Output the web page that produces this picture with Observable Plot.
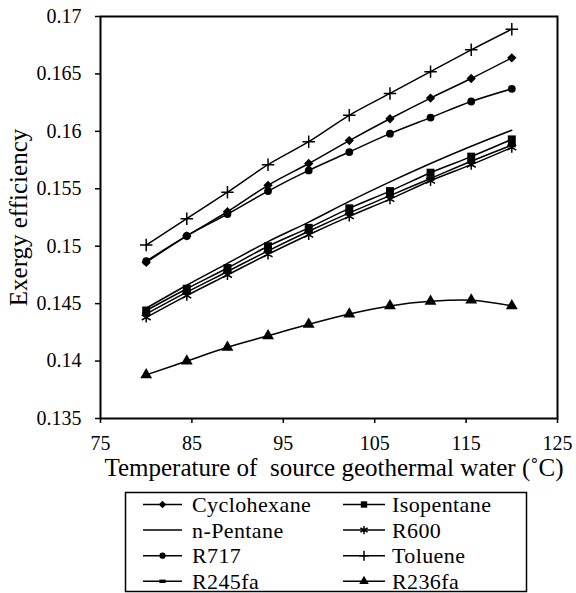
<!DOCTYPE html>
<html><head><meta charset="utf-8">
<script src="https://cdn.jsdelivr.net/npm/d3@7"></script>
<script src="https://cdn.jsdelivr.net/npm/@observablehq/plot@0.6"></script>
<style>
body{margin:0;background:#fff;}
#chart svg{display:block;}
</style>
</head><body><div id="chart"></div>
<script>
// ---- data ----
const temps = [80, 84.44, 88.89, 93.33, 97.78, 102.22, 106.67, 111.11, 115.56, 120];
const cyclohexane = [0.1486, 0.1509, 0.1530, 0.1553, 0.1572, 0.1592, 0.1611, 0.1629, 0.1646, 0.1664];
const isopentane  = [0.1444, 0.1463, 0.1481, 0.1500, 0.1516, 0.1533, 0.1548, 0.1564, 0.1578, 0.1593];
const nPentane    = [0.1446, 0.1466, 0.1485, 0.1504, 0.1521, 0.1539, 0.1556, 0.1572, 0.1587, 0.1601];
const r600        = [0.1438, 0.1457, 0.1475, 0.1493, 0.1510, 0.1526, 0.1541, 0.1557, 0.1571, 0.1586];
const r717        = [0.1487, 0.1509, 0.1528, 0.1548, 0.1566, 0.1582, 0.1598, 0.1612, 0.1626, 0.1637];
const toluene     = [0.1501, 0.1524, 0.1547, 0.1571, 0.1591, 0.1614, 0.1633, 0.1652, 0.1671, 0.1689];
const r245fa      = [0.1441, 0.1460, 0.1478, 0.1496, 0.1513, 0.1529, 0.1544, 0.1559, 0.1574, 0.1588];
const r236fa      = [0.1388, 0.1400, 0.1412, 0.1422, 0.1432, 0.1441, 0.1448, 0.1452, 0.1453, 0.1448];

const xTicks = [75, 85, 95, 105, 115, 125];
const yTicks = [0.135, 0.14, 0.145, 0.15, 0.155, 0.16, 0.165, 0.17];
const xTitle = "Temperature of\u00a0 source geothermal water (\u02DAC)";
const yTitle = "Exergy efficiency";

const serif = "Liberation Serif";

// custom dash marker (short filled bar)
const dashSymbol = {draw(ctx, size) { const w = Math.sqrt(size) * 0.55, h = w * 0.55; ctx.rect(-w, -h, 2 * w, 2 * h); }};

const series = [
  {name: "Cyclohexane", values: cyclohexane, symbol: "diamond2", r: 4.2, hollow: false},
  {name: "Isopentane",  values: isopentane,  symbol: "square",   r: 4.5, hollow: false},
  {name: "n-Pentane",   values: nPentane,    symbol: null},
  {name: "R600",        values: r600,        symbol: "asterisk", r: 4.9, hollow: true},
  {name: "R717",        values: r717,        symbol: "circle",   r: 3.9, hollow: false},
  {name: "Toluene",     values: toluene,     symbol: "plus",     r: 4.1, hollow: true},
  {name: "R245fa",      values: r245fa,      symbol: dashSymbol, r: 4.0, hollow: false},
  {name: "R236fa",      values: r236fa,      symbol: "triangle", r: 4.4, hollow: false}
];
const rows = series.flatMap(s => s.values.map((v, i) => ({name: s.name, t: temps[i], e: v})));

const marks = [];
for (const s of series) {
  const data = rows.filter(d => d.name === s.name);
  marks.push(Plot.line(data, {x: "t", y: "e", curve: "catmull-rom", stroke: "black", strokeWidth: 1.5}));
  if (s.symbol) {
    marks.push(Plot.dot(data, s.hollow
      ? {x: "t", y: "e", symbol: s.symbol, r: s.r, stroke: "black", strokeWidth: 1.5, fill: "none"}
      : {x: "t", y: "e", symbol: s.symbol, r: s.r, fill: "black", stroke: "none"}));
  }
}

const plot = Plot.plot({
  width: 576,
  height: 488,
  marginLeft: 100,
  marginRight: 19,
  marginTop: 16,
  marginBottom: 70,
  style: {fontFamily: serif, fontSize: "20px", color: "black", background: "white"},
  x: {domain: [75, 125]},
  y: {domain: [0.135, 0.17]},
  marks: [
    Plot.axisX({ticks: xTicks, tickSize: 5, tickPadding: 12, tickFormat: d => String(d), label: null, strokeWidth: 1.5, fontSize: 20}),
    Plot.axisY({ticks: yTicks, tickSize: 5, tickPadding: 14, tickFormat: d => String(d), label: null, strokeWidth: 1.5, fontSize: 20}),
    ...marks,
    Plot.frame({stroke: "black", strokeWidth: 2}),
    Plot.text([xTitle], {text: d => d, frameAnchor: "bottom", textAnchor: "middle", dy: 57, dx: 5, fontSize: 25, fill: "black"}),
    Plot.text([yTitle], {text: d => d, frameAnchor: "left", textAnchor: "middle", rotate: -90, dx: -82, fontSize: 25, fill: "black"})
  ]
});
document.getElementById("chart").appendChild(plot);
d3.select(plot).selectAll("text").attr("font-family", serif).style("font-family", serif);

// ---- legend (below the plot) ----
const leg = d3.select("#chart").append("svg").attr("width", 576).attr("height", 105).style("display", "block");
leg.append("rect").attr("x", 125.5).attr("y", 4.5).attr("width", 401).attr("height", 99)
  .attr("fill", "none").attr("stroke", "black").attr("stroke-width", 1.5);
const legendOrder = ["Cyclohexane", "Isopentane", "n-Pentane", "R600", "R717", "Toluene", "R245fa", "R236fa"];
const colX = [{x1: 143, x2: 182, tx: 192}, {x1: 343, x2: 385, tx: 392}];
const symMap = {diamond2: d3.symbolDiamond2, square: d3.symbolSquare, asterisk: d3.symbolAsterisk, circle: d3.symbolCircle, plus: d3.symbolPlus, triangle: d3.symbolTriangle};
legendOrder.forEach((name, i) => {
  const s = series.find(d => d.name === name);
  const c = colX[i % 2];
  const y = 16.5 + Math.floor(i / 2) * 25.6;
  const g = leg.append("g");
  g.append("line").attr("x1", c.x1).attr("x2", c.x2).attr("y1", y).attr("y2", y).attr("stroke", "black").attr("stroke-width", 1.5);
  if (s.symbol) {
    const type = typeof s.symbol === "string" ? symMap[s.symbol] : s.symbol;
    const rr = s.r * 0.8;
    g.append("path").attr("transform", `translate(${(c.x1 + c.x2) / 2},${y})`)
      .attr("d", d3.symbol(type, Math.PI * rr * rr)())
      .attr("fill", s.hollow ? "none" : "black").attr("stroke", s.hollow ? "black" : "none").attr("stroke-width", 1.5);
  }
  g.append("text").attr("x", c.tx).attr("y", y + 7.5).attr("font-size", 22).attr("letter-spacing", 0.4)
    .attr("font-family", serif).style("font-family", serif).attr("fill", "black").text(name);
});
</script>
</body></html>
